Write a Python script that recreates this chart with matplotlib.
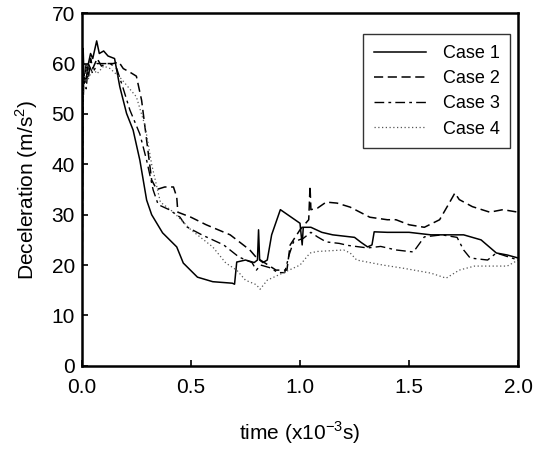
import matplotlib
matplotlib.use("Agg")
import matplotlib.pyplot as plt

plt.rcParams['font.family'] = ['Liberation Sans', 'DejaVu Sans']

# Case 1 (solid)
t1 = [0, 0.004, 0.006, 0.01, 0.02, 0.03, 0.04, 0.05, 0.068, 0.08, 0.10, 0.12, 0.15, 0.174,
      0.205, 0.235, 0.266, 0.297, 0.32, 0.37, 0.435, 0.465, 0.53, 0.60, 0.69, 0.70, 0.71,
      0.75, 0.79, 0.805, 0.81, 0.815, 0.83, 0.85, 0.87, 0.91, 0.96, 1.00, 1.01, 1.015, 1.05,
      1.10, 1.15, 1.23, 1.25, 1.28, 1.31, 1.33, 1.34, 1.40, 1.50, 1.60, 1.70, 1.75, 1.83,
      1.90, 1.95, 2.0]
v1 = [0, 40, 63, 57, 57, 60, 62, 61, 64.5, 62, 62.5, 61.5, 61, 55.4,
      50.1, 46.8, 40.8, 32.9, 30, 26.4, 23.6, 20.4, 17.6, 16.7, 16.4, 16.2, 20.6,
      21, 20.5, 21, 27, 21, 20.5, 21, 26, 31, 29.5, 28.3, 24, 27.5, 27.5,
      26.5, 26, 25.6, 25.5, 24.5, 23.6, 24, 26.6, 26.5, 26.5, 26, 26, 26, 25,
      22.4, 22, 21.4]

# Case 2 (dashed)
t2 = [0, 0.005, 0.01, 0.02, 0.03, 0.04, 0.05, 0.07, 0.09, 0.11, 0.143, 0.17, 0.19, 0.22,
      0.25, 0.274, 0.297, 0.32, 0.343, 0.38, 0.42, 0.435, 0.44, 0.50, 0.57, 0.68, 0.77,
      0.80, 0.84, 0.89, 0.94, 0.955, 0.97, 1.00, 1.04, 1.046, 1.05, 1.08, 1.12, 1.17,
      1.23, 1.32, 1.40, 1.44, 1.50, 1.57, 1.64, 1.68, 1.71, 1.73, 1.79, 1.87, 1.93, 2.0]
v2 = [0, 57, 56, 60, 57, 61, 59, 61, 59.5, 60, 60, 60.3, 59, 58.3,
      57.5, 52.7, 44.8, 36.9, 35, 35.5, 35.5, 33.5, 30.5, 29.5, 28, 26, 23,
      21.5, 20.4, 19, 19, 24, 25, 27, 29, 35.7, 31, 31.3, 32.5, 32.3,
      31.5, 29.5, 29, 29, 28, 27.5, 29, 32, 34.3, 33, 31.6, 30.5, 31, 30.5]

# Case 3 (dash-dot)
t3 = [0, 0.005, 0.01, 0.02, 0.03, 0.05, 0.07, 0.10, 0.13, 0.16, 0.19, 0.22, 0.266, 0.297,
      0.327, 0.35, 0.40, 0.45, 0.48, 0.55, 0.65, 0.72, 0.78, 0.80, 0.82, 0.86, 0.90, 0.93,
      0.95, 0.97, 1.015, 1.05, 1.08, 1.12, 1.18, 1.22, 1.31, 1.37, 1.44, 1.52, 1.57, 1.65,
      1.72, 1.75, 1.78, 1.86, 1.90, 2.0]
v3 = [0, 50, 58, 55, 60, 58, 60, 60, 60, 59, 55, 50.8, 46, 40.8,
      34.9, 32, 31, 29.5, 27.6, 26, 24, 21.6, 20.5, 19, 20, 19.5, 18.5, 18.5,
      22, 24.6, 25.3, 26.5, 25.6, 24.6, 24.3, 23.9, 23.4, 23.7, 23, 22.6, 25.6, 26,
      25.5, 23, 21.4, 21, 22.4, 21]

# Case 4 (dotted)
t4 = [0, 0.005, 0.01, 0.02, 0.03, 0.05, 0.07, 0.10, 0.13, 0.18, 0.25, 0.29, 0.32, 0.36,
      0.42, 0.50, 0.60, 0.66, 0.71, 0.75, 0.80, 0.817, 0.85, 0.90, 0.95, 1.00, 1.046, 1.08,
      1.20, 1.23, 1.26, 1.38, 1.47, 1.60, 1.67, 1.73, 1.80, 1.95, 2.0]
v4 = [0, 52, 57, 59, 57, 59, 58, 59.5, 59, 57, 53.4, 47.6, 40, 32.5,
      30.5, 27, 23.6, 20.4, 19, 17, 16.1, 15.2, 17, 18, 19, 20, 22.4, 22.7,
      23, 22.4, 21, 20, 19.4, 18.4, 17.4, 19, 19.8, 19.8, 21]

labels = ['Case 1', 'Case 2', 'Case 3', 'Case 4']
xticks = [0.0, 0.5, 1.0, 1.5, 2.0]
yticks = [0, 10, 20, 30, 40, 50, 60, 70]

fig = plt.figure(figsize=(5.42, 4.55), dpi=100)
ax = fig.add_axes([0.151, 0.196, 0.805, 0.775])

ax.plot(t1, v1, color='black', lw=1.1, ls='-', label=labels[0])
ax.plot(t2, v2, color='black', lw=1.1, ls=(0, (6, 3)), label=labels[1])
ax.plot(t3, v3, color='black', lw=1.0, ls=(0, (7, 3, 2, 3)), label=labels[2])
ax.plot(t4, v4, color='#555555', lw=0.9, ls=(0, (1, 2)), label=labels[3])

ax.set_xlim(0, 2.0)
ax.set_ylim(0, 70)
ax.set_xticks(xticks)
ax.set_xticklabels(['%.1f' % x for x in xticks])
ax.set_yticks(yticks)
ax.tick_params(axis='both', direction='in', length=4, width=1.2, labelsize=15,
               top=False, right=False)
ax.tick_params(axis='x', pad=9)
ax.tick_params(axis='y', pad=5)
for s in ax.spines.values():
    s.set_linewidth(1.8)

ax.set_xlabel(r'time (x10$^{\mathregular{-3}}$s)', fontsize=15, labelpad=16)
ax.set_ylabel(r'Deceleration (m/s$^{\mathregular{2}}$)', fontsize=15, labelpad=8)

leg = ax.legend(loc='upper right', bbox_to_anchor=(0.982, 0.94), borderaxespad=0,
                fontsize=13, frameon=True, fancybox=False, edgecolor='black',
                handlelength=2.9, borderpad=0.6, labelspacing=0.45, handletextpad=0.9)
leg.get_frame().set_linewidth(1.0)

fig.savefig('out.png', dpi=100)
